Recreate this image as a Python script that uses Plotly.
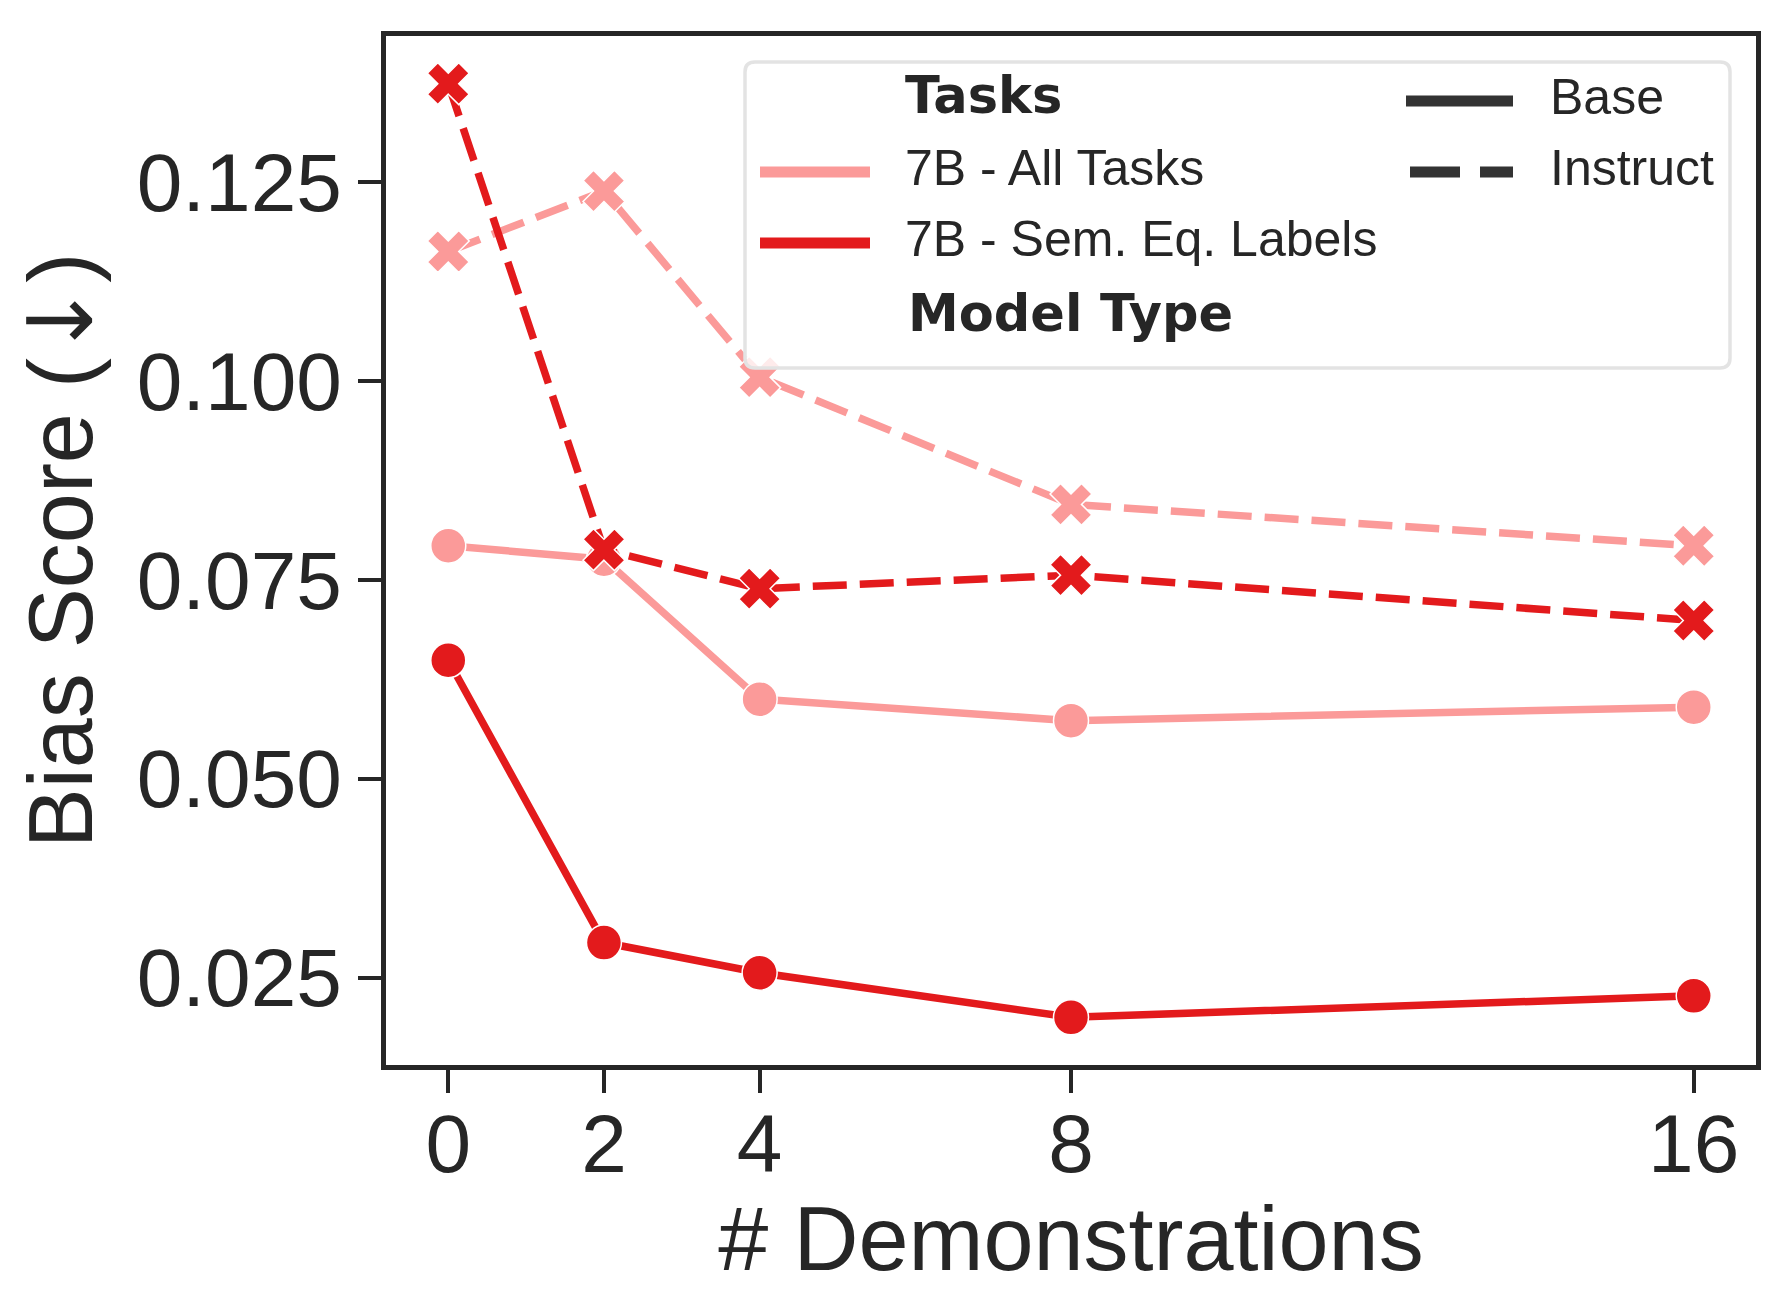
import plotly.graph_objects as go

# number of demonstrations
shots = [0, 2, 4, 8, 16]

# bias scores
base_all_tasks = [0.0793, 0.0776, 0.0600, 0.0573, 0.0590]
base_sem_eq = [0.0649, 0.0294, 0.0256, 0.0200, 0.0227]
instruct_all_tasks = [0.1163, 0.1239, 0.1005, 0.0845, 0.0793]
instruct_sem_eq = [0.1374, 0.0788, 0.0739, 0.0756, 0.0699]

y_ticks = [0.025, 0.050, 0.075, 0.100, 0.125]
task_labels = ['7B - All Tasks', '7B - Sem. Eq. Labels']
type_labels = ['Base', 'Instruct']

PINK = '#fb9a99'
RED = '#e31a1c'
INK = '#262626'
W, H = 1777, 1301
L, R, T, B = 378, 29, 28, 244

fig = go.Figure()

def add_series(y, color, dash, symbol, size, name):
    fig.add_trace(go.Scatter(
        x=shots, y=y, mode='lines+markers', name=name,
        line=dict(color=color, width=7.5, dash=dash),
        marker=dict(color=color, size=size, symbol=symbol,
                    line=dict(color='white', width=1.5)),
        showlegend=False
    ))

add_series(base_all_tasks, PINK, 'solid', 'circle', 35, 'Base - All Tasks')
add_series(instruct_all_tasks, PINK, '34px,13px', 'x', 37, 'Instruct - All Tasks')
add_series(base_sem_eq, RED, 'solid', 'circle', 35, 'Base - Sem. Eq.')
add_series(instruct_sem_eq, RED, '34px,13px', 'x', 37, 'Instruct - Sem. Eq.')


# pixel -> paper helpers for the hand-drawn legend
def px(x):
    return (x - L) / (W - L - R)

def py(y):
    return (H - B - y) / (H - T - B)

shapes = []
annotations = []

# legend frame with rounded corners
x0, x1, y0, y1, rr = 737, 1722, 54, 360, 10
path = (f'M{px(x0 + rr)},{py(y0)} L{px(x1 - rr)},{py(y0)} '
        f'Q{px(x1)},{py(y0)} {px(x1)},{py(y0 + rr)} '
        f'L{px(x1)},{py(y1 - rr)} Q{px(x1)},{py(y1)} {px(x1 - rr)},{py(y1)} '
        f'L{px(x0 + rr)},{py(y1)} Q{px(x0)},{py(y1)} {px(x0)},{py(y1 - rr)} '
        f'L{px(x0)},{py(y0 + rr)} Q{px(x0)},{py(y0)} {px(x0 + rr)},{py(y0)} Z')
shapes.append(dict(type='path', path=path, xref='paper', yref='paper',
                   fillcolor='rgba(255,255,255,0.8)',
                   line=dict(color='#e3e3e3', width=3.5), layer='above'))

def legend_text(text, x, y, bold=False):
    annotations.append(dict(
        text=f'<b>{text}</b>' if bold else text, x=px(x), y=py(y),
        xref='paper', yref='paper', xanchor='left', yanchor='middle', showarrow=False,
        font=dict(size=51 if bold else 50, color=INK,
                  family='DejaVu Sans' if bold else 'Liberation Sans, Arial')
    ))

def legend_line(x0, x1, y, color, dash='solid'):
    shapes.append(dict(type='line', xref='paper', yref='paper',
                       x0=px(x0), x1=px(x1), y0=py(y), y1=py(y),
                       line=dict(color=color, width=11, dash=dash), layer='above'))

legend_text('Tasks', 895, 88, bold=True)
legend_line(752, 862, 164, PINK)
legend_text(task_labels[0], 895, 160)
legend_line(752, 862, 235, RED)
legend_text(task_labels[1], 895, 231)
legend_text('Model Type', 898, 305, bold=True)

legend_line(1398, 1505, 93, '#333333')
legend_text(type_labels[0], 1540, 89)
legend_line(1402, 1505, 164, '#333333', dash='50px,20px')
legend_text(type_labels[1], 1540, 160)

fig.update_layout(
    width=W, height=H,
    margin=dict(l=L, r=R, t=T, b=B),
    plot_bgcolor='white',
    paper_bgcolor='white',
    font=dict(family='Liberation Sans, Arial', color=INK),
    shapes=shapes,
    annotations=annotations,
    xaxis=dict(
        range=[-0.8, 16.8], tickvals=shots, ticktext=[str(s) for s in shots],
        showgrid=False, zeroline=False, showline=True, mirror=True,
        linecolor=INK, linewidth=4.5, ticks='outside', ticklen=23, tickwidth=4,
        tickcolor=INK, tickfont=dict(size=82, color=INK), ticklabelstandoff=-19,
        title=dict(text='# Demonstrations', font=dict(size=90, color=INK), standoff=6)
    ),
    yaxis=dict(
        range=[0.0140, 0.1434], tickvals=y_ticks, tickformat='.3f',
        showgrid=False, zeroline=False, showline=True, mirror=True,
        linecolor=INK, linewidth=4.5, ticks='outside', ticklen=23, tickwidth=4,
        tickcolor=INK, tickfont=dict(size=82, color=INK), ticklabelstandoff=0,
        title=dict(text='Bias Score (<span style="font-family:DejaVu Sans">↓</span>)',
                   font=dict(size=90, color=INK), standoff=28)
    ),
)

fig.write_html('out.html')
